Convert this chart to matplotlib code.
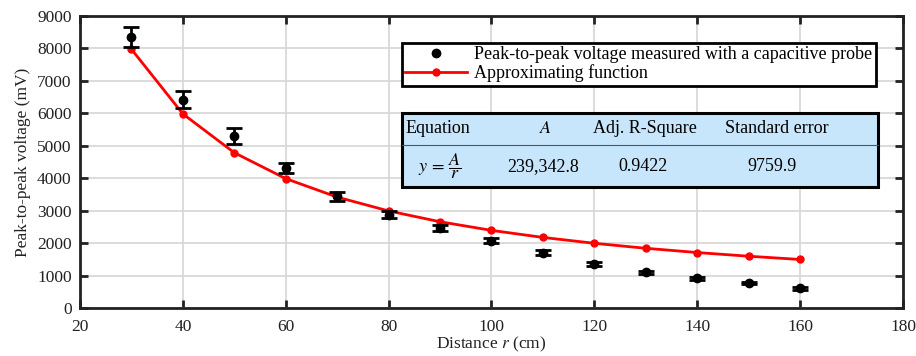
import matplotlib.pyplot as plt
from matplotlib.lines import Line2D
from matplotlib.patches import Rectangle

# --- datos ---
distancia = [30, 40, 50, 60, 70, 80, 90, 100, 110, 120, 130, 140, 150, 160]
voltaje_medido = [8350, 6420, 5300, 4320, 3440, 2870, 2460, 2070, 1705, 1350, 1100, 915, 770, 605]
error_medido = [310, 270, 240, 160, 130, 110, 90, 80, 70, 60, 55, 50, 45, 45]
voltaje_ajuste = [7978, 5984, 4787, 3989, 3419, 2992, 2659, 2393, 2176, 1995, 1841, 1710, 1596, 1496]

cabecera = ["Equation", r"$A$", "Adj. R-Square", "Standard error"]
fila = [r"$y\,=\,\dfrac{A}{r}$", "239,342.8", "0.9422", "9759.9"]

plt.rcParams['font.family'] = ['Liberation Serif', 'DejaVu Serif']
plt.rcParams['mathtext.fontset'] = 'stix'
plt.rcParams['font.size'] = 12.5

fig = plt.figure(figsize=(9.16, 3.56), dpi=100)
ax = fig.add_axes([0.0873, 0.1348, 0.8985, 0.8202])

ax.plot(distancia, voltaje_ajuste, color='red', lw=2, marker='o', ms=5,
        markerfacecolor='red', markeredgecolor='red', zorder=3)
ax.errorbar(distancia, voltaje_medido, yerr=error_medido, fmt='o', color='black',
            ms=6, elinewidth=2, capsize=5.5, capthick=2, zorder=4)

ax.set_xlim(20, 180)
ax.set_ylim(0, 9000)
ax.set_xticks(range(20, 181, 20))
ax.set_yticks(range(0, 9001, 1000))
ax.grid(True, color='#d6d6d6', lw=1.2)
ax.set_axisbelow(True)
ax.tick_params(direction='in', length=6, width=2, top=True, right=True,
               labelsize=12.5, colors='#222222')
ax.tick_params(axis='x', pad=8)
ax.tick_params(axis='y', pad=6)
for s in ax.spines.values():
    s.set_linewidth(2)
    s.set_color('#222222')

ax.set_xlabel(r"Distance $r$ (cm)", fontsize=12.5, color='#222222', labelpad=0)
ax.set_ylabel("Peak-to-peak voltage (mV)", fontsize=12.5, color='#222222', labelpad=4)

# leyenda
h1 = Line2D([], [], ls='none', marker='o', color='black', ms=6)
h2 = Line2D([], [], color='red', lw=2, marker='o', ms=5)
leg = ax.legend([h1, h2], ["Peak-to-peak voltage measured with a capacitive probe",
                           "Approximating function"],
                loc='upper left', bbox_to_anchor=(0.391, 0.908), fancybox=False,
                framealpha=1, edgecolor='black', fontsize=13, handlelength=3.4,
                borderpad=0.2, labelspacing=0.05, handletextpad=0.4, borderaxespad=0)
leg.get_frame().set_linewidth(2)

# tabla
x0, x1, y0, y1 = 0.391, 0.970, 0.414, 0.668
ax.add_patch(Rectangle((x0, y0), x1 - x0, y1 - y0, transform=ax.transAxes,
                       facecolor='#c7e5fb', edgecolor='black', lw=2.2, zorder=5))
ax.plot([x0, x1], [0.558, 0.558], transform=ax.transAxes, color='#555555', lw=0.8, zorder=6)
ax.text(0.396, 0.616, cabecera[0], transform=ax.transAxes, ha='left', va='center',
        fontsize=13, zorder=7)
for xc, t in zip([0.566, 0.687, 0.847], cabecera[1:]):
    ax.text(xc, 0.616, t, transform=ax.transAxes, ha='center', va='center',
            fontsize=13, zorder=7)
for xc, t in zip([0.437, 0.563, 0.684, 0.841], fila):
    ax.text(xc, 0.486, t, transform=ax.transAxes, ha='center', va='center',
            fontsize=13, zorder=7)

fig.savefig("out.png", dpi=100)
